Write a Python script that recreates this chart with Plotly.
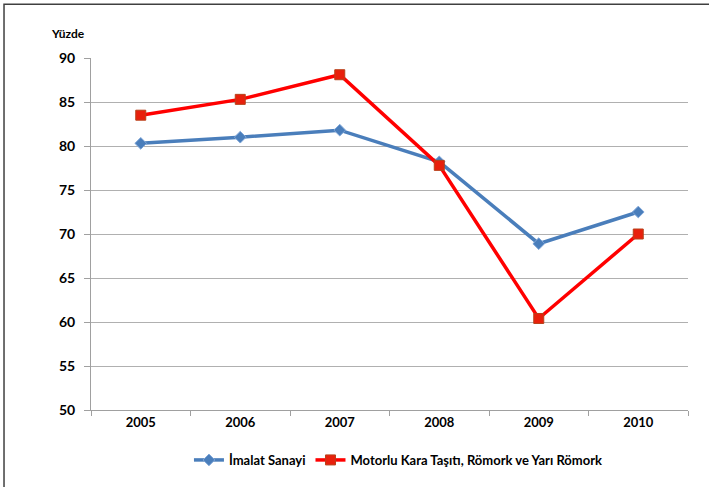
import plotly.graph_objects as go

years = ["2005", "2006", "2007", "2008", "2009", "2010"]
imalat = [80.3, 81.0, 81.8, 78.2, 68.9, 72.5]
motorlu = [83.5, 85.3, 88.1, 77.8, 60.4, 70.0]
y_ticks = [50, 55, 60, 65, 70, 75, 80, 85, 90]

FONT = "Lato"

fig = go.Figure()
fig.add_trace(go.Scatter(
    x=years, y=imalat, mode="lines+markers", name="İmalat Sanayi",
    line=dict(color="#4a7ebb", width=3.5),
    marker=dict(symbol="diamond", size=9, color="#4a7ebb",
                line=dict(color="#7fa6d8", width=1)),
))
fig.add_trace(go.Scatter(
    x=years, y=motorlu, mode="lines+markers",
    name="Motorlu Kara Taşıtı, Römork ve Yarı Römork",
    line=dict(color="#ff0000", width=3.5),
    marker=dict(symbol="square", size=10, color="#e8200c",
                line=dict(color="#b8401a", width=1)),
))

fig.update_layout(
    width=709, height=487,
    margin=dict(l=91, r=21, t=58, b=77),
    paper_bgcolor="white", plot_bgcolor="white",
    font=dict(family=FONT, size=12, color="black"),
    showlegend=True,
    legend=dict(orientation="h", x=0.515, xanchor="center", y=-0.142, yanchor="middle",
                font=dict(family=FONT, size=13, color="black", weight="bold"),
                itemwidth=30, tracegroupgap=0, bgcolor="rgba(0,0,0,0)"),
    xaxis=dict(type="category", tickson="boundaries", ticks="outside", ticklen=5,
               tickcolor="#a0a0a0", showline=True, linecolor="#a0a0a0", linewidth=1,
               showgrid=False, tickfont=dict(family=FONT, size=13, weight="bold"),
               range=[-0.5, 5.5], fixedrange=True),
    yaxis=dict(range=[50, 90], tickvals=y_ticks, ticks="outside", ticklen=6,
               tickcolor="#a0a0a0", showline=True, linecolor="#a0a0a0", linewidth=1,
               showgrid=True, gridcolor="#b0b0b0", gridwidth=1, zeroline=False,
               tickfont=dict(family=FONT, size=14, weight="bold"), ticklabelstandoff=6),
    annotations=[dict(text="Yüzde", xref="paper", yref="paper", x=-0.0385, y=1.071,
                      xanchor="center", yanchor="middle", showarrow=False,
                      font=dict(family=FONT, size=12, weight="bold"))],
    shapes=[dict(type="rect", xref="paper", yref="paper",
                 x0=-0.1457, x1=1.1, y0=-0.3, y1=1.153,
                 line=dict(color="#404040", width=1.5), fillcolor="rgba(0,0,0,0)",
                 layer="below")],
)

fig.write_html("out.html", config={"displayModeBar": False},
               post_script="document.body.style.margin='0';document.body.style.overflow='hidden';")
